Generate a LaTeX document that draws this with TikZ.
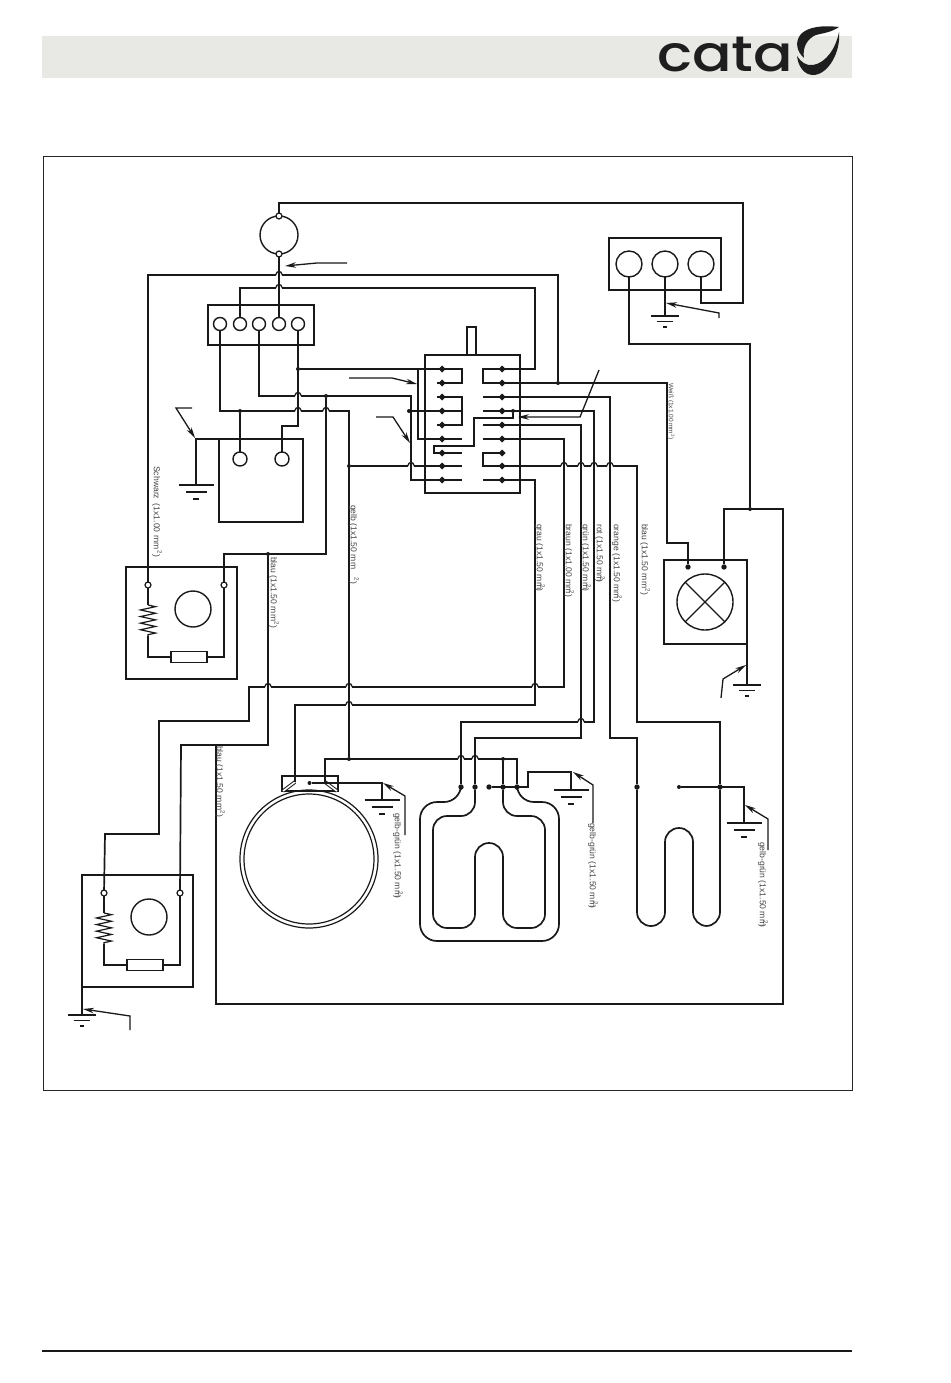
\documentclass[tikz,border=0pt]{standalone}
\usepackage{fontspec}
\setmainfont{Liberation Sans}
\newfontfamily\logofont[FakeStretch=1.17]{Poppins Medium}
\usetikzlibrary{arrows.meta,decorations.pathmorphing,shapes.geometric}

\definecolor{bandgray}{HTML}{E8E8E5}
\definecolor{logoblack}{HTML}{1E1E1E}
\definecolor{labelgray}{HTML}{444444}

\tikzset{
	wire/.style={draw=black!90,line width=1.7pt,line join=miter},
	thinwire/.style={draw=black!90,line width=1.2pt},
	housing/.style={draw=black!90,line width=1.7pt,inner sep=0pt,outer sep=0pt},
	port/.style={shape=circle,draw=black!90,line width=1.4pt,inner sep=0pt,outer sep=0pt},
	pin/.style={shape=circle,draw=black!90,fill=white,line width=1.2pt,inner sep=0pt,outer sep=0pt,minimum size=6pt},
	dot/.style={shape=circle,fill=black!90,inner sep=0pt,outer sep=0pt,minimum size=4pt},
	bigdot/.style={shape=circle,fill=black!90,inner sep=0pt,outer sep=0pt,minimum size=5.4pt},
	contact/.style={shape=diamond,fill=black!90,inner sep=0pt,outer sep=0pt,minimum size=7pt},
	pointer/.style={draw=black!90,line width=1.3pt,-{Stealth[length=11pt,width=5.5pt]}},
	wirelabel/.style={rotate=-90,anchor=west,inner sep=0pt,text=labelgray,font=\fontsize{8.6}{9}\selectfont}
}

% bump of a horizontal wire over a vertical one
\newcommand{\hop}[2]{
	\draw[white,line width=2.4pt] (#1-3.4,#2) -- (#1-1.1,#2) (#1+1.1,#2) -- (#1+3.4,#2);
	\draw[wire,line width=1.3pt] (#1-3.4,#2) .. controls (#1-2,#2-4.8) and (#1+2,#2-4.8) .. (#1+3.4,#2);
}
% earth symbol: x, y, size
\newcommand{\earth}[3]{
	\draw[wire] (#1-17.5*#3,#2) -- (#1+17.5*#3,#2);
	\draw[wire] (#1-10.5*#3,#2+7*#3) -- (#1+10.5*#3,#2+7*#3);
	\draw[wire] (#1-3*#3,#2+14*#3) -- (#1+3*#3,#2+14*#3);
}
% square mark of a label, pulled back over the unit
\newcommand{\sqmark}[1]{\kern#1pt\textsuperscript{2}}

\begin{document}
\begin{tikzpicture}[x=1pt,y=-1pt]
	\useasboundingbox (0,0) rectangle (950,1383);

	% page furniture
	\fill[bandgray] (42,36) rectangle (852,78);
	\draw[line width=1pt,draw=black!85] (43,157) rectangle (852,1090);
	\draw[line width=1.5pt,draw=black!90] (42,1351) -- (852,1351);
	\node[anchor=base west,inner sep=0pt,text=logoblack] (logo) at (657,72) {\logofont\fontsize{50}{50}\selectfont cata};
	\fill[logoblack] (839,27) .. controls (822,25) and (808,27) .. (801,34)
		.. controls (795,41) and (796,51) .. (804,58)
		.. controls (802,47) and (808,38) .. (816,35) .. controls (824,33) and (832,32) .. (839,27) -- cycle;
	\fill[logoblack] (797,56) .. controls (798,66) and (804,75) .. (813,75)
		.. controls (828,75) and (841,52) .. (839,32)
		.. controls (836,48) and (826,63) .. (813,65) .. controls (806,66) and (801,62) .. (797,56) -- cycle;

	% motor and terminal blocks
	\node[port,minimum size=38pt] (motor) at (279,235) {};
	\node[pin] (mtop) at (279,216) {};
	\node[pin] (mbot) at (279,254) {};

	\node[housing,draw,minimum width=106pt,minimum height=40pt] (block) at (261,325) {};
	\foreach \n/\x in {1/220,2/240,3/259,4/279,5/298}
		\node[port,minimum size=13pt] (t\n) at (\x,324) {};

	\node[housing,draw,minimum width=112pt,minimum height=52pt] (supply) at (665,264) {};
	\foreach \n/\x in {1/629,2/665,3/701}
		\node[port,minimum size=26pt] (s\n) at (\x,264) {};

	% relay box
	\node[housing,draw,minimum width=84pt,minimum height=83pt] (relay) at (261,480.5) {};
	\node[port,minimum size=14pt] (c1) at (240,459) {};
	\node[port,minimum size=14pt] (c2) at (282,459) {};

	% selector switch
	\node[housing,draw,minimum width=95pt,minimum height=138pt] (switch) at (472.5,424) {};
	\node[housing,draw,minimum width=9pt,minimum height=28pt] (stem) at (471.5,341) {};
	\foreach \n/\y in {1/369,2/383,3/397,4/411,5/425,6/439,7/453,8/466,9/480} {
		\coordinate (ls\n) at (437,\y);
		\coordinate (le\n) at (462,\y);
		\coordinate (re\n) at (483,\y);
		\coordinate (rs\n) at (505,\y);
	}

	% lamp
	\node[housing,draw,minimum width=83pt,minimum height=84pt] (lampbox) at (705.5,602) {};
	\node[port,minimum size=56pt] (lamp) at (705,602) {};
	\draw[thinwire] (lamp.north west) -- (lamp.south east);
	\draw[thinwire] (lamp.north east) -- (lamp.south west);
	\node[bigdot] (lp1) at (688,567) {};
	\node[bigdot] (lp2) at (724,567) {};

	% the two fan heaters
	\foreach \n/\ox/\oy in {a/126/567,b/82/875} {
		\node[housing,draw,minimum width=111pt,minimum height=112pt,anchor=north west] (h\n) at (\ox,\oy) {};
		\node[pin] (hl\n) at (\ox+22,\oy+18) {};
		\node[pin] (hr\n) at (\ox+98,\oy+18) {};
		\node[port,minimum size=36pt] (fan\n) at (\ox+67,\oy+42) {};
		\node[housing,draw,minimum width=36pt,minimum height=11pt,line width=1.2pt] (rb\n) at (\ox+63,\oy+90) {};
		\coordinate (za\n) at (\ox+22,\oy+38);
		\coordinate (zb\n) at (\ox+22,\oy+69);
		\draw[thinwire] (hl\n) -- (za\n);
		\draw[thinwire,decorate,decoration={zigzag,amplitude=7.5pt,segment length=6.6pt}] (za\n) -- (zb\n);
		\draw[thinwire] (zb\n) |- (rb\n);
		\draw[thinwire] (rb\n) -| (hr\n);
	}

	% round element
	\node[shape=circle,draw=black!90,line width=1.2pt,inner sep=0pt,minimum size=138pt] (ringout) at (309,859) {};
	\node[shape=circle,draw=black!90,line width=1.2pt,inner sep=0pt,minimum size=130pt] (ringin) at (309,859) {};
	\node[housing,draw,minimum width=56pt,minimum height=15pt] (ringbox) at (310,783.5) {};
	\coordinate (rt1) at (295,782);
	\coordinate (rt2) at (325,782);
	\draw[black!90,line width=1pt,double=white,double distance=1.6pt] (rt1) -- (283,791);
	\draw[black!90,line width=1pt,double=white,double distance=1.6pt] (rt2) -- (337,791);
	\node[dot] (ringdot) at (309.5,783) {};

	% junctions
	\node[dot] (j298) at (298,369) {};
	\node[dot] (j326) at (326,396) {};
	\node[dot] (j240) at (240,411) {};
	\node[dot] (j409) at (409,411) {};
	\node[dot] (j349) at (349,466) {};
	\node[dot] (j349b) at (349,759) {};
	\node[dot] (j558) at (558,383) {};
	\node[dot] (j513) at (513,411) {};
	\node[dot] (j503) at (503,759) {};
	\node[dot] (j750) at (750,509) {};
	\node[dot] (j268) at (268,554) {};
	\coordinate (j418) at (418,369);
	\coordinate (j216) at (216,745);
	\coordinate (j349a) at (349,411);
	\coordinate (relaytl) at (219,439);
	\foreach \n/\x in {1/461,2/475,3/489,4/503,5/517}
		\node[bigdot] (g\n) at (\x,787) {};
	\foreach \n/\x in {1/637,3/720}
		\node[bigdot] (w\n) at (\x,787) {};
	\node[dot] (w2) at (679,787) {};

	% wires from the motor and the terminal block
	\draw[wire] (mtop) -- (279,203) -- (743,203) -- (743,303) -- (701,303) -- (s3);
	\path[wire] (mbot) edge (t4);
	\draw[wire] (hla) |- (558,275) -- (j558);
	\draw[wire] (t2) |- (535,288) -- (535,369) -- (re1) -- (re2) -- (667,383) -- (667,543) -- (688,543) -- (lp1);
	\draw[wire] (t1) |- (j349a) -- (j349b);
	\draw[wire] (t3) |- (411,396) -- (411,480) -- (le9);
	\draw[wire] (t5) -- (298,426) -- (282,426) -- (c2);
	\draw[wire] (c1) -- (j240);
	\draw[wire] (j326) -- (326,554) -- (224,554) -- (hra);
	\draw[wire] (j268) -- (268,745) -- (181,745) -- (hrb);
	\draw[wire] (j216) -- (216,1004) -- (783,1004) -- (783,509) -- (724,509) -- (lp2);
	\draw[wire] (s1) -- (629,344) -- (750,344) -- (j750);
	\draw[wire] (s2) -- (665,316);

	% wires at the left side of the switch
	\draw[wire] (j298) -- (le1) -- (le2) -- (ls2);
	\draw[wire] (ls3) -- (le3) -- (le5) -- (ls5);
	\draw[wire] (j409) -- (le4);
	\draw[wire] (j418) -- (418,439) -- (le6);
	\draw[wire] (le7) -- (434,453) -- (434,446) -- (474,446) -- (474,418) -- (513,418) -- (j513);
	\draw[wire] (j349) -- (le8);

	% wires at the right side of the switch
	\draw[wire] (re3) -- (610,397) -- (610,738) -- (637,738) -- (w1);
	\draw[wire] (re4) -- (594,411) -- (594,722) -- (461,722) -- (g1);
	\draw[wire] (re5) -- (581,425) -- (581,738) -- (475,738) -- (g2);
	\draw[wire] (re6) -- (564,439) -- (564,687) -- (249,687) -- (249,721) -- (159,721) -- (159,834) -- (105,834) -- (hlb);
	\draw[wire] (rs7) -- (re7) -- (re8) -- (637,466) -- (637,722) -- (720,722) -- (w3);
	\draw[wire] (re9) -- (535,480) -- (535,705) -- (295,705) -- (rt1);

	% grill element
	\draw[wire,rounded corners=17pt] (g1) -- (461,802) -- (420,802) -- (420,941) -- (559,941) -- (559,802) -- (517,802) -- (g5);
	\draw[wire,rounded corners=14pt] (g2) -- (475,816) -- (433,816) -- (433,928) -- (475,928) -- (475,843) -- (503,843) -- (503,928) -- (545,928) -- (545,816) -- (503,816) -- (g4);
	\draw[wire] (rt2) |- (517,759) -- (g5);
	\draw[wire] (j503) -- (g4);
	\draw[wire] (g3) -- (528,787) -- (528,772) -- (571,772) -- (571,790);

	% third element
	\draw[wire,rounded corners=14pt] (w1) -- (637,926) -- (665,926) -- (665,828) -- (693,828) -- (693,926) -- (720,926) -- (w3);
	\draw[wire] (w2) -- (744,787) -- (744,823);

	% earth leads
	\draw[wire] (ringdot) -- (382,783) -- (382,800);
	\draw[wire] (relaytl) -- (196,439) -- (196,485);
	\draw[wire] (lampbox.south east) -- (747,685);
	\draw[wire] (hb.south west) -- (82,1015);

	\earth{196}{485}{1}
	\earth{665}{316}{.8}
	\earth{382}{800}{1}
	\earth{571}{790}{1}
	\earth{744}{823}{1}
	\earth{747}{685}{.8}
	\earth{82}{1015}{.8}

	% contacts go over the wires
	\foreach \n/\y in {1/369,2/383,3/397,4/411,5/425,6/439,7/453,8/466,9/480} {
		\node[contact] (lc\n) at (442,\y) {};
		\node[contact] (rc\n) at (502,\y) {};
	}

	% crossings
	\foreach \hx/\hy in {279/275,279/288,298/396,298/411,326/411,411/466,564/466,581/466,594/466,610/466,268/687,349/687,349/705,535/687,581/722,461/759,475/759} {
		\hop{\hx}{\hy}
	}

	% leader arrows
	\coordinate (pa) at (347,263);
	\coordinate (pb) at (285,266);
	\draw[pointer] (pa) -- (317,263) -- (pb);
	\coordinate (pc) at (349,378);
	\coordinate (pd) at (417,384);
	\draw[pointer] (pc) -- (392,378) -- (pd);
	\coordinate (pe) at (376,417);
	\coordinate (pf) at (410,443);
	\draw[pointer] (pe) -- (393,417) -- (pf);
	\coordinate (pg) at (192,408);
	\coordinate (ph) at (195,438);
	\draw[pointer] (pg) -- (176,408) -- (ph);
	\coordinate (pi) at (599,370);
	\coordinate (pj) at (518,417);
	\draw[pointer] (pi) -- (580,417) -- (pj);
	\coordinate (pk) at (719,318);
	\coordinate (pl) at (666,303);
	\draw[pointer] (pk) -- (719,313) -- (pl);
	\coordinate (pm) at (721,698);
	\coordinate (pn) at (746,665);
	\draw[pointer] (pm) -- (723,679) -- (pn);
	\coordinate (po) at (405,835);
	\coordinate (pp) at (383,783);
	\draw[pointer] (po) -- (405,796) -- (pp);
	\coordinate (pq) at (593,823);
	\coordinate (pr) at (573,772);
	\draw[pointer] (pq) -- (593,785) -- (pr);
	\coordinate (ps) at (768,850);
	\coordinate (pt) at (745,805);
	\draw[pointer] (ps) -- (768,819) -- (pt);
	\coordinate (pu) at (130,1030);
	\coordinate (pv) at (83,1009);
	\draw[pointer] (pu) -- (130,1016) -- (pv);

	% wire labels
	\node[wirelabel] (lschwarz) at (157,466) {Schwarz\ \ (1x1.00 mm\kern1pt\textsuperscript{2})};
	\node[wirelabel] (lblaua) at (274,557) {blau\ (1x1.50 mm\textsuperscript{2})};
	\node[wirelabel] (lgelb) at (354,505) {gelb\ (1x1.50 mm\kern8pt\textsuperscript{2})};
	\node[wirelabel] (lgrau) at (540,524) {grau (1x1.50 mm\sqmark{-5})};
	\node[wirelabel] (lbraun) at (569,524) {braun (1x1.00 mm\sqmark{-3})};
	\node[wirelabel] (lgruen) at (586,524) {grün (1x1.50 mm\sqmark{-5})};
	\node[wirelabel] (lrot) at (600,524) {rot (1x1.50 mm\sqmark{-6})};
	\node[wirelabel] (lorange) at (617,524) {orange (1x1.50 mm\sqmark{-3})};
	\node[wirelabel] (lblaub) at (645,524) {blau (1x1.50 mm\textsuperscript{2})};
	\node[wirelabel,font=\fontsize{6.5}{7}\selectfont] (lweiss) at (671,383) {Weiß (1x1.00 mm\textsuperscript{2})};
	\node[wirelabel] (lblauc) at (220,746) {blau\ (1x1.50 mm\textsuperscript{2})};
	\node[wirelabel] (lgga) at (398,813) {gelb-grün (1x1.50 mm\sqmark{-6})};
	\node[wirelabel] (lggb) at (593,823) {gelb-grün (1x1.50 mm\sqmark{-6})};
	\node[wirelabel] (lggc) at (763,842) {gelb-grün (1x1.50 mm\sqmark{-6})};
\end{tikzpicture}
\end{document}
